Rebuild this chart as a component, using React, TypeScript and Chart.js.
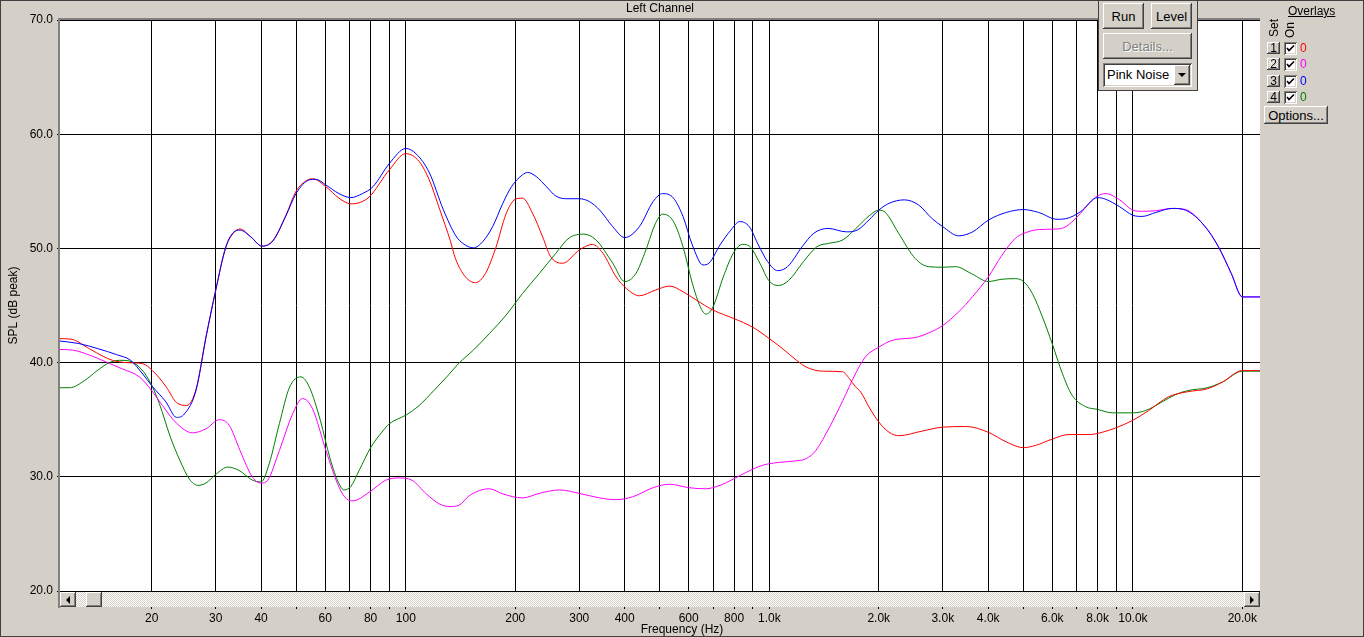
import { useEffect, useRef } from 'react';
import Chart from 'chart.js/auto';

// x grid / labels (Hz) and y ticks (dB)
const GRID_HZ = [20, 30, 40, 50, 60, 70, 80, 90, 100, 200, 300, 400, 500, 600, 700, 800, 900, 1000, 2000, 3000, 4000, 5000, 6000, 7000, 8000, 9000, 10000, 20000];
const LABELED_HZ = [20, 30, 40, 60, 80, 100, 200, 300, 400, 600, 800, 1000, 2000, 3000, 4000, 6000, 8000, 10000, 20000];
const DB_TICKS = [20, 30, 40, 50, 60, 70];
const X_MIN = 11.19;
const X_MAX = 22370;

// overlay 1 (red)
const RED_HZ = [11.1, 12, 13.5, 14.7, 15.6, 17, 18.9, 20.1, 21.9, 23.4, 25, 26.5, 28.2, 30, 32, 33.7, 35, 37.5, 40.2, 43.1, 46.8, 49.9, 53.7, 55.4, 60.3, 65.5, 70.6, 74.4, 79.3, 90.2, 100, 108.9, 116, 124, 132.5, 137, 146, 155.5, 165.6, 177, 188.6, 200, 209.5, 223, 238, 250, 270, 300, 326, 348, 379, 404, 439, 486, 532, 579, 628, 700, 800, 900, 1000, 1089, 1188, 1265, 1400, 1590, 1660, 1725, 1786, 1881, 2000, 2135, 2270, 2630, 3000, 3490, 4000, 4490, 5000, 5400, 6000, 6670, 7580, 8240, 9000, 10000, 11050, 12520, 14140, 16010, 17640, 20000, 22400];
const RED_DB = [42.1, 42.05, 41.2, 40.55, 40.2, 40.0, 39.9, 39.3, 37.9, 36.5, 36.25, 37.7, 42.2, 46.3, 50.1, 51.4, 51.7, 51.0, 50.2, 50.7, 52.9, 55.0, 56.0, 56.1, 55.4, 54.4, 53.9, 54.0, 54.5, 56.9, 58.3, 57.6, 56.0, 53.4, 50.7, 49.1, 47.5, 47.0, 47.8, 50.1, 53.0, 54.3, 54.4, 53.1, 51.0, 49.3, 48.7, 49.85, 50.35, 49.6, 47.5, 46.5, 45.85, 46.35, 46.7, 46.2, 45.5, 44.6, 43.85, 43.1, 42.1, 41.2, 40.2, 39.6, 39.25, 39.2, 38.6, 37.9, 37.4, 36.1, 34.8, 33.9, 33.6, 34.0, 34.35, 34.4, 33.9, 33.05, 32.55, 32.75, 33.3, 33.7, 33.7, 33.9, 34.3, 34.95, 35.8, 37.0, 37.45, 37.7, 38.3, 39.3, 39.3];

// overlay 2 (magenta)
const MAGENTA_HZ = [11.1, 12.1, 13.5, 15, 16.6, 18.5, 20, 21.4, 23.4, 25.9, 28.2, 30.7, 32.7, 35, 37.9, 40, 41.7, 44.9, 48.9, 52, 55.4, 60.3, 65.5, 68.8, 71.6, 79.3, 88.1, 95.6, 104, 113.9, 124.1, 132.5, 140, 149.5, 169.9, 184.9, 209.5, 232.9, 264.9, 300, 341.6, 378.9, 420.7, 479.4, 531.7, 600, 667, 731.6, 796, 865, 956, 1054, 1188, 1265, 1342, 1464, 1594, 1730, 1838, 2000, 2177, 2522, 2744, 3000, 3318, 3617, 4000, 4363, 4756, 5000, 5503, 6187, 6540, 7167, 7584, 8000, 8423, 9195, 10000, 10600, 11568, 12829, 13955, 15809, 17186, 18653, 20000, 22400];
const MAGENTA_DB = [41.15, 41.1, 40.65, 40.05, 39.45, 38.75, 37.55, 36.25, 34.7, 33.85, 34.2, 35.0, 34.5, 32.3, 29.95, 29.45, 29.7, 32.3, 35.55, 36.85, 35.95, 32.3, 29.1, 28.05, 27.9, 28.65, 29.7, 29.9, 29.7, 28.5, 27.6, 27.4, 27.5, 28.35, 28.95, 28.5, 28.15, 28.55, 28.85, 28.55, 28.15, 28.0, 28.25, 29.05, 29.35, 29.05, 28.95, 29.25, 29.8, 30.4, 31.0, 31.25, 31.4, 31.6, 32.3, 34.35, 36.7, 39.1, 40.5, 41.35, 41.95, 42.2, 42.6, 43.25, 44.45, 45.75, 47.5, 49.4, 50.9, 51.3, 51.65, 51.7, 51.9, 53.05, 53.95, 54.6, 54.8, 54.25, 53.35, 53.25, 53.3, 53.5, 53.4, 51.9, 50.15, 47.8, 45.75, 45.75];

// overlay 3 (blue)
const BLUE_HZ = [11.1, 12.6, 14.3, 16, 17.5, 18.9, 20.1, 21.9, 23.4, 24.6, 26.5, 28.2, 30, 32, 33.7, 35, 37.5, 40.2, 43.1, 46.8, 49.9, 54.3, 56.6, 60.3, 65.5, 70.6, 76, 81.2, 90.2, 100, 106.6, 116.2, 126.8, 137.3, 143.4, 153.5, 162.9, 173.3, 184.9, 195.3, 209.5, 216.4, 228.3, 243.8, 258.3, 275.7, 300, 320, 341.6, 371, 400, 439, 479, 508.6, 545, 578.7, 614, 657, 682, 731.6, 783.7, 829, 881, 933, 989, 1054, 1122, 1231, 1322, 1450, 1630, 1744, 1881, 2000, 2135, 2351, 2574, 2805, 3000, 3318, 3625, 4014, 4488, 5000, 5503, 6187, 6540, 7167, 8000, 8423, 9195, 10000, 10600, 11568, 12829, 13955, 15809, 17186, 18653, 20000, 22400];
const BLUE_DB = [41.9, 41.67, 41.2, 40.7, 40.2, 39.0, 37.9, 36.55, 35.2, 35.5, 37.6, 42.2, 46.35, 50.15, 51.45, 51.6, 51.0, 50.2, 50.65, 52.85, 54.8, 56.0, 56.05, 55.55, 54.8, 54.45, 54.8, 55.4, 57.45, 58.75, 58.3, 56.6, 53.4, 51.1, 50.45, 50.05, 50.6, 51.9, 53.95, 55.4, 56.45, 56.65, 56.3, 55.4, 54.6, 54.35, 54.35, 54.1, 53.35, 51.9, 50.95, 51.9, 54.1, 54.8, 54.4, 52.8, 50.3, 48.55, 48.7, 50.3, 51.6, 52.35, 51.9, 50.3, 48.85, 48.05, 48.4, 50.15, 51.3, 51.75, 51.45, 51.6, 52.5, 53.35, 53.95, 54.25, 53.8, 52.6, 51.9, 51.1, 51.45, 52.5, 53.15, 53.4, 53.15, 52.55, 52.6, 53.2, 54.45, 54.3, 53.65, 52.9, 52.8, 53.15, 53.5, 53.35, 51.9, 50.15, 47.8, 45.75, 45.75];

// overlay 4 (green)
const GREEN_HZ = [11.1, 11.9, 13.1, 14.1, 15.3, 16.3, 17.3, 18.7, 19.9, 21, 22.5, 23.9, 25.4, 26.8, 28.2, 30.1, 32.4, 34.8, 37.9, 40, 42.1, 44.9, 47.9, 51.5, 54.3, 58.2, 61.9, 65.5, 67.6, 70.6, 74.4, 80.2, 85.9, 90.2, 100, 108.9, 119.4, 130.9, 140, 153.5, 169.9, 188.6, 209.5, 232.9, 258.3, 281, 308.8, 333.3, 371, 400, 429.5, 457.4, 486.4, 509, 545, 578.7, 614, 645.5, 669, 697, 747, 795, 843, 881, 942, 996, 1059, 1131, 1242, 1352, 1464, 1594, 1725, 1881, 2000, 2085, 2270, 2522, 2744, 3000, 3251, 3617, 4000, 4363, 4756, 5000, 5290, 5638, 6000, 6397, 6802, 7403, 8000, 8781, 10000, 10838, 12019, 13110, 14142, 16013, 17640, 20000, 22400];
const GREEN_DB = [37.8, 37.8, 38.45, 39.25, 40.0, 40.2, 40.15, 39.45, 38.15, 36.4, 33.5, 31.45, 29.8, 29.25, 29.45, 30.25, 30.85, 30.55, 29.7, 29.55, 31.15, 34.65, 37.85, 38.75, 37.85, 34.95, 31.6, 29.4, 28.85, 29.15, 30.55, 32.6, 33.9, 34.65, 35.4, 36.25, 37.55, 38.9, 39.95, 41.1, 42.55, 44.15, 46.05, 47.8, 49.55, 50.9, 51.25, 50.75, 48.7, 47.1, 47.8, 49.85, 52.2, 53.0, 52.35, 50.15, 46.95, 44.9, 44.25, 44.75, 47.5, 49.55, 50.35, 50.2, 48.7, 47.2, 46.75, 47.2, 48.85, 50.15, 50.45, 50.75, 51.7, 52.85, 53.35, 53.15, 51.3, 49.1, 48.4, 48.35, 48.4, 47.75, 47.1, 47.3, 47.35, 47.1, 46.05, 44.0, 41.65, 39.05, 37.15, 36.15, 35.9, 35.6, 35.6, 35.8, 36.55, 37.2, 37.55, 37.8, 38.3, 39.25, 39.25];

const FONT = "'Liberation Sans', Arial, sans-serif";
Chart.defaults.font.family = FONT;
Chart.defaults.font.size = 12;
Chart.defaults.color = '#000';

const toPoints = (hz: number[], db: number[]) => hz.map((x, i) => ({ x, y: db[i] }));

const hzLabel = (v: number) => {
  if (!LABELED_HZ.includes(v)) return '';
  return v >= 1000 ? `${(v / 1000).toFixed(1)}k` : String(v);
};

// white plot, sunken border and the free-standing texts
const framePlugin = {
  id: 'frame',
  beforeDraw(chart: Chart) {
    const { ctx, chartArea: a } = chart;
    ctx.save();
    ctx.fillStyle = '#ffffff';
    ctx.fillRect(a.left, a.top, a.right - a.left, a.bottom - a.top);
    ctx.restore();
  },
  afterDraw(chart: Chart) {
    const { ctx, chartArea: a } = chart;
    ctx.save();
    ctx.fillStyle = '#808080';
    ctx.fillRect(a.left - 2, a.top - 2, a.right - a.left + 2, 2);
    ctx.fillRect(a.left - 2, a.top - 2, 2, a.bottom - a.top + 19);
    ctx.fillStyle = '#000';
    ctx.font = `12px ${FONT}`;
    ctx.textAlign = 'center';
    ctx.textBaseline = 'middle';
    ctx.fillText('Left Channel', (a.left + a.right) / 2, 9);
    ctx.fillText('Frequency (Hz)', 682, 630);
    ctx.restore();
  },
};

const raised: React.CSSProperties = {
  position: 'absolute',
  boxSizing: 'border-box',
  background: '#d4d0c8',
  boxShadow: 'inset -1px -1px #404040, inset 1px 1px #ffffff, inset -2px -2px #808080, inset 2px 2px #d4d0c8',
  display: 'flex',
  alignItems: 'center',
  justifyContent: 'center',
  fontSize: 12,
  color: '#000',
};

const sunken: React.CSSProperties = {
  position: 'absolute',
  boxSizing: 'border-box',
  background: '#ffffff',
  boxShadow: 'inset 1px 1px #808080, inset -1px -1px #ffffff, inset 2px 2px #404040, inset -2px -2px #d4d0c8',
};

const OVERLAY_ROWS = [
  { n: '1', color: '#ff0000', top: 42 },
  { n: '2', color: '#ff00ff', top: 58 },
  { n: '3', color: '#0000ff', top: 75 },
  { n: '4', color: '#008000', top: 91 },
];

const Check = () => (
  <svg width="9" height="9" viewBox="0 0 9 9" style={{ position: 'absolute', left: 2, top: 2 }}>
    <polyline points="1,4 3,6.5 8,1.5" fill="none" stroke="#000" strokeWidth="1.6" />
  </svg>
);

const App = () => {
  const canvasRef = useRef<HTMLCanvasElement | null>(null);
  const chartRef = useRef<Chart | null>(null);

  useEffect(() => {
    if (!canvasRef.current) return;
    if (chartRef.current) chartRef.current.destroy();

    chartRef.current = new Chart(canvasRef.current, {
      type: 'line',
      data: {
        datasets: [
          { label: '3', data: toPoints(BLUE_HZ, BLUE_DB), borderColor: '#0000ff' },
          { label: '1', data: toPoints(RED_HZ, RED_DB), borderColor: '#ff0000' },
          { label: '2', data: toPoints(MAGENTA_HZ, MAGENTA_DB), borderColor: '#ff00ff' },
          { label: '4', data: toPoints(GREEN_HZ, GREEN_DB), borderColor: '#008000' },
        ],
      },
      options: {
        animation: false,
        responsive: false,
        events: [],
        layout: { padding: { left: 0, top: 20, right: 104, bottom: 0 } },
        plugins: { legend: { display: false }, tooltip: { enabled: false }, title: { display: false } },
        elements: {
          point: { radius: 0 },
          line: { borderWidth: 1, cubicInterpolationMode: 'monotone', fill: false },
        },
        scales: {
          x: {
            type: 'logarithmic',
            min: X_MIN,
            max: X_MAX,
            afterBuildTicks: (s: any) => {
              s.ticks = GRID_HZ.map((value) => ({ value }));
            },
            afterFit: (s: any) => {
              s.height = 46;
              s.paddingLeft = 0;
              s.paddingRight = 0;
            },
            grid: { color: '#000', lineWidth: 1, tickLength: 18, tickColor: '#000' },
            border: { display: false },
            ticks: {
              autoSkip: false,
              maxRotation: 0,
              minRotation: 0,
              padding: 2,
              color: '#000',
              callback: (v: any) => hzLabel(Number(v)),
            },
          },
          y: {
            type: 'linear',
            min: 20,
            max: 70,
            afterBuildTicks: (s: any) => {
              s.ticks = DB_TICKS.map((value) => ({ value }));
            },
            afterFit: (s: any) => {
              s.width = 60;
              s.paddingTop = 0;
              s.paddingBottom = 0;
            },
            grid: { color: '#000', lineWidth: 1, tickLength: 3, tickColor: '#000' },
            border: { display: false },
            ticks: { padding: 4, color: '#000', callback: (v: any) => Number(v).toFixed(1) },
            title: {
              display: true,
              text: 'SPL (dB peak)',
              color: '#000',
              font: { size: 12 },
              padding: { top: 6, bottom: 0 },
            },
          },
        },
      },
      plugins: [framePlugin],
    });
    // Cleanup
    return () => {
      chartRef.current?.destroy();
      chartRef.current = null;
    };
  }, []);

  return (
    <div
      style={{
        position: 'fixed',
        left: 0,
        top: 0,
        width: 1364,
        height: 637,
        background: '#d4d0c8',
        overflow: 'hidden',
        fontFamily: FONT,
        fontSize: 12,
        color: '#000',
      }}
    >
      <canvas ref={canvasRef} width={1364} height={637} style={{ position: 'absolute', left: 0, top: 0 }} />

      {/* scrollbar under the plot */}
      <div
        style={{
          position: 'absolute',
          left: 60,
          top: 592,
          width: 1200,
          height: 15,
          background: 'repeating-conic-gradient(#ffffff 0% 25%, #d4d0c8 0% 50%) 0 0 / 2px 2px',
        }}
      >
        <div style={{ ...raised, left: 0, top: 0, width: 16, height: 15 }}>
          <div style={{ width: 0, height: 0, borderTop: '4px solid transparent', borderBottom: '4px solid transparent', borderRight: '4px solid #000' }} />
        </div>
        <div style={{ ...raised, left: 26, top: 0, width: 16, height: 15 }} />
        <div style={{ ...raised, left: 1184, top: 0, width: 16, height: 15 }}>
          <div style={{ width: 0, height: 0, borderTop: '4px solid transparent', borderBottom: '4px solid transparent', borderLeft: '4px solid #000' }} />
        </div>
      </div>

      {/* run / level box */}
      <div
        style={{
          position: 'absolute',
          left: 1098,
          top: -1,
          width: 100,
          height: 92,
          boxSizing: 'border-box',
          background: '#d4d0c8',
          border: '1px solid #404040',
        }}
      />
      <div style={{ ...raised, left: 1103, top: 3, width: 41, height: 26, fontSize: 13 }}>Run</div>
      <div style={{ ...raised, left: 1151, top: 3, width: 41, height: 26, fontSize: 13 }}>Level</div>
      <div style={{ ...raised, left: 1103, top: 33, width: 89, height: 26, fontSize: 13, color: '#808080', textShadow: '1px 1px #ffffff' }}>
        Details...
      </div>
      <div style={{ ...sunken, left: 1103, top: 63, width: 89, height: 24 }}>
        <div style={{ position: 'absolute', left: 4, top: 4, fontSize: 13 }}>Pink Noise</div>
        <div style={{ ...raised, left: 71, top: 2, width: 16, height: 20 }}>
          <div style={{ width: 0, height: 0, borderLeft: '4px solid transparent', borderRight: '4px solid transparent', borderTop: '4px solid #000' }} />
        </div>
      </div>

      {/* overlays panel */}
      <div style={{ position: 'absolute', left: 1288, top: 4, fontSize: 12, textDecoration: 'underline' }}>Overlays</div>
      <div style={{ position: 'absolute', left: 1274, top: 28, transform: 'translate(-50%, -50%) rotate(-90deg)', whiteSpace: 'nowrap' }}>Set</div>
      <div style={{ position: 'absolute', left: 1290, top: 30, transform: 'translate(-50%, -50%) rotate(-90deg)', whiteSpace: 'nowrap' }}>On</div>
      {OVERLAY_ROWS.map((r) => (
        <div key={r.n}>
          <div
            style={{
              ...raised,
              left: 1267,
              top: r.top,
              width: 13,
              height: 12,
              ...(r.n === '2'
                ? { background: 'repeating-conic-gradient(#ffffff 0% 25%, #d4d0c8 0% 50%) 0 0 / 2px 2px' }
                : {}),
            }}
          >
            {r.n}
          </div>
          <div style={{ ...sunken, left: 1284, top: r.top, width: 13, height: 13 }}>
            <Check />
          </div>
          <div style={{ position: 'absolute', left: 1300, top: r.top - 1, color: r.color }}>0</div>
        </div>
      ))}
      <div style={{ ...raised, left: 1264, top: 106, width: 64, height: 18, fontSize: 13 }}>Options...</div>

      {/* window frame */}
      <div
        style={{
          position: 'absolute',
          left: 0,
          top: 0,
          width: 1364,
          height: 637,
          boxSizing: 'border-box',
          border: '1px solid #404040',
          pointerEvents: 'none',
        }}
      />
    </div>
  );
};

export default App;
